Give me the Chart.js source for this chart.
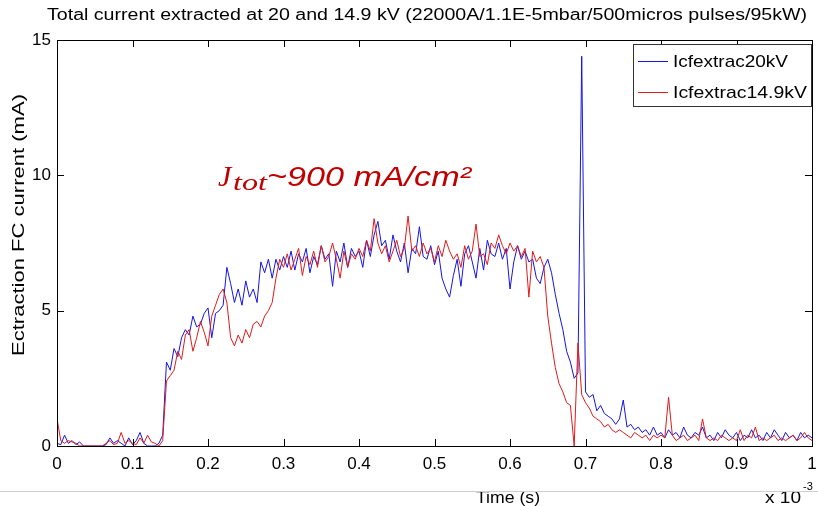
<!DOCTYPE html>
<html>
<head>
<meta charset="utf-8">
<script src="https://cdn.jsdelivr.net/npm/chart.js@4.4.1/dist/chart.umd.min.js"></script>
<style>
html, body { margin: 0; padding: 0; background: #fff; }
</style>
</head>
<body>
<canvas id="plot-data" width="818" height="506"></canvas>
<script>
// time samples in units of 1e-3 s, one every 0.005
const sampleStep = 0.005
const xTickLabels = ['0', '0.1', '0.2', '0.3', '0.4', '0.5', '0.6', '0.7', '0.8', '0.9', '1']
const yTickLabels = ['0', '5', '10', '15']

// Icfextrac20kV (mA)
const blueIcf = [
    0.1, 0.05, 0.4, 0.1, 0.2, 0.05, 0.15, 0, 0, 0, 0, 0, 0, 0.05, 0.3, 0.1, 0.2, 0.1, 0.0, 0.3,
    0.05, 0.2, 0.5, 0.1, 0.0, 0.0, 0.0, 0.1, 0.4, 3.1, 2.8, 3.6, 3.3, 4.0, 4.3, 4.1, 4.8, 4.4, 4.5, 4.9,
    5.1, 4.0, 4.9, 5.0, 5.2, 6.6, 6.0, 5.3, 5.8, 5.2, 6.1, 5.5, 5.8, 5.3, 6.8, 6.4, 6.9, 6.2, 6.9, 6.5,
    7.0, 6.6, 7.2, 6.5, 7.1, 6.8, 7.3, 6.4, 7.0, 6.7, 7.4, 6.9, 7.1, 5.9, 7.2, 6.8, 7.5, 6.6, 7.3, 7.0,
    7.2, 6.6, 7.6, 7.0, 7.8, 8.3, 7.4, 7.6, 6.9, 7.8, 7.2, 6.8, 7.5, 6.4, 7.3, 7.1, 8.1, 7.0, 6.9, 7.4,
    6.7, 7.2, 6.2, 5.8, 5.5, 6.3, 6.9, 5.9, 7.1, 7.4, 6.8, 6.2, 7.3, 6.5, 7.6, 7.1, 7.0, 7.5, 6.9, 7.3,
    5.8, 6.8, 7.4, 6.9, 7.2, 6.8, 6.9, 6.2, 6.0, 6.6, 6.9, 6.4, 5.6, 4.9, 4.3, 3.5, 3.1, 2.5, 2.7, 14.4,
    2.0, 1.8, 1.9, 1.3, 1.5, 1.2, 1.1, 1.0, 0.8, 1.0, 1.7, 0.7, 0.8, 0.6, 0.7, 0.5, 0.6, 0.4, 0.7, 0.4,
    0.5, 0.3, 0.6, 0.4, 0.5, 0.3, 0.7, 0.4, 0.3, 0.5, 0.4, 0.7, 0.3, 0.4, 0.2, 0.5, 0.3, 0.6, 0.4, 0.3,
    0.5, 0.2, 0.4, 0.3, 0.6, 0.3, 0.4, 0.2, 0.5, 0.3, 0.6, 0.4, 0.2, 0.5, 0.3, 0.4, 0.2, 0.5, 0.3, 0.4, 0.3
]

// Icfextrac14.9kV (mA)
const redIcf = [
    1.0, 0.2, 0.1, 0.2, 0.15, 0.1, 0, 0, 0, 0, 0, 0, 0, 0.1, 0.2, 0.05, 0.1, 0.5, 0.1, 0.2,
    0.1, 0.05, 0.3, 0.1, 0.4, 0.15, 0.1, 0, 0.2, 2.4, 2.6, 2.8, 3.5, 3.2, 4.1, 4.3, 3.5, 4.0, 4.6, 4.2,
    3.7, 4.8, 5.2, 5.6, 5.8, 5.3, 4.0, 3.7, 4.1, 3.8, 4.3, 4.0, 4.5, 4.6, 4.4, 4.8, 5.0, 5.3, 6.2, 6.9,
    6.6, 7.1, 6.5, 6.9, 7.3, 6.3, 7.0, 6.7, 7.2, 6.6, 7.4, 6.8, 7.0, 7.5, 6.9, 6.2, 7.2, 6.6, 7.1, 6.9,
    7.3, 7.0, 7.6, 7.2, 8.4, 7.5, 7.1, 7.4, 6.8, 7.2, 7.6, 7.0, 7.3, 8.5, 7.2, 7.4, 7.0, 7.5, 7.1, 7.3,
    6.8, 7.4, 7.0, 7.6, 7.2, 6.9, 7.1, 6.6, 7.4, 6.9, 7.2, 8.2, 7.0, 7.1, 6.7, 7.5, 7.3, 7.8, 7.4, 7.1,
    7.5, 7.2, 7.4, 7.0, 7.3, 5.5, 7.2, 6.8, 7.0, 6.6, 4.8, 3.8, 2.9, 2.3, 2.0, 1.6, 1.5, 0.0, 3.8, 1.9,
    1.6, 1.4, 1.1, 1.0, 0.9, 0.7, 0.8, 0.6, 0.5, 0.6, 0.5, 0.4, 0.3, 0.5, 0.4, 0.3, 0.4, 0.2, 0.4, 0.3,
    0.4, 0.3, 1.8, 0.4, 0.2, 0.3, 0.4, 0.2, 0.3, 0.4, 0.2, 1.0, 0.3, 0.2, 0.3, 0.2, 0.4, 0.3, 0.2, 0.3,
    0.2, 0.6, 0.2, 0.4, 0.3, 0.7, 0.2, 0.3, 0.2, 0.3, 0.4, 0.2, 0.3, 0.2, 0.3, 0.4, 0.2, 0.3, 0.5, 0.3, 0.2
]

const timeMs = blueIcf.map((v, i) => +(i * sampleStep).toFixed(3))

function toPoints(values) {
    return values.map((v, i) => ({ x: timeMs[i], y: v }))
}

// draws text squeezed/stretched to a given width
function fitText(ctx, text, x, y, width) {
    const w = ctx.measureText(text).width
    ctx.save()
    ctx.translate(x, y)
    ctx.scale(width / w, 1)
    ctx.fillText(text, 0, 0)
    ctx.restore()
}

const matlabFrame = {
    id: 'matlabFrame',
    afterDatasetsDraw(chart) {
        const { ctx } = chart
        ctx.save()
        ctx.fillStyle = '#c00000'
        ctx.textBaseline = 'alphabetic'
        ctx.textAlign = 'left'
        ctx.font = 'italic 30px "Liberation Serif"'
        ctx.fillText('J', 218, 186)
        ctx.font = 'italic 23px "Liberation Serif"'
        fitText(ctx, 'tot', 233, 190, 34)
        ctx.font = 'italic 28px "Liberation Sans"'
        fitText(ctx, '~900 mA/cm²', 267, 186, 204)
        ctx.restore()
    },
    afterDraw(chart) {
        const { ctx, chartArea: a, scales: { x, y } } = chart
        ctx.save()
        ctx.strokeStyle = '#000'
        ctx.lineWidth = 1
        ctx.strokeRect(Math.round(a.left) + 0.5, Math.round(a.top) + 0.5, Math.round(a.right - a.left), Math.round(a.bottom - a.top))

        // inward tick marks on all four sides
        ctx.beginPath()
        x.ticks.forEach(t => {
            const px = Math.round(x.getPixelForValue(t.value)) + 0.5
            ctx.moveTo(px, a.bottom); ctx.lineTo(px, a.bottom - 7)
            ctx.moveTo(px, a.top); ctx.lineTo(px, a.top + 7)
        })
        y.ticks.forEach(t => {
            const py = Math.round(y.getPixelForValue(t.value)) + 0.5
            ctx.moveTo(a.left, py); ctx.lineTo(a.left + 7, py)
            ctx.moveTo(a.right, py); ctx.lineTo(a.right - 7, py)
        })
        ctx.stroke()

        // legend box
        const lx = 633, ly = 44, lw = 178, lh = 62
        ctx.fillStyle = '#fff'
        ctx.fillRect(lx, ly, lw, lh)
        ctx.strokeStyle = '#333'
        ctx.strokeRect(lx + 0.5, ly + 0.5, lw, lh)
        ctx.font = '17px "Liberation Sans"'
        ctx.textBaseline = 'middle'
        ctx.textAlign = 'left'
        const legendWidths = [115, 134]
        chart.data.datasets.forEach((ds, i) => {
            const yy = 61 + i * 31
            ctx.strokeStyle = ds.borderColor
            ctx.beginPath()
            ctx.moveTo(638, yy + 0.5); ctx.lineTo(668, yy + 0.5)
            ctx.stroke()
            ctx.fillStyle = '#000'
            fitText(ctx, ds.label, 673, yy + 1, legendWidths[i])
        })

        // titles
        ctx.fillStyle = '#000'
        ctx.textAlign = 'left'
        ctx.textBaseline = 'alphabetic'
        ctx.font = '16px "Liberation Sans"'
        fitText(ctx, 'Total current extracted at 20 and 14.9 kV (22000A/1.1E-5mbar/500micros pulses/95kW)', 47, 20, 760)

        ctx.save()
        ctx.translate(24, 356)
        ctx.rotate(-Math.PI / 2)
        ctx.font = '17px "Liberation Sans"'
        fitText(ctx, 'Ectraction FC current (mA)', 0, 0, 262)
        ctx.restore()

        ctx.font = '16px "Liberation Sans"'
        fitText(ctx, 'Time (s)', 476, 503, 64)
        fitText(ctx, 'x 10', 765, 503, 36)
        ctx.font = '11px "Liberation Sans"'
        ctx.fillText('-3', 803, 490)

        // faint page edge line near the bottom
        ctx.strokeStyle = '#cfcfcf'
        ctx.beginPath()
        ctx.moveTo(0, 491.5); ctx.lineTo(818, 491.5)
        ctx.stroke()
        ctx.restore()
    }
}

const ctx = document.getElementById('plot-data').getContext('2d')
const chart = new Chart(ctx, {
    type: 'line',
    data: {
        datasets: [{
            label: 'Icfextrac20kV',
            data: toPoints(blueIcf),
            borderColor: '#1414e6',
            borderWidth: 1,
            pointRadius: 0,
            tension: 0,
            order: 1
        }, {
            label: 'Icfextrac14.9kV',
            data: toPoints(redIcf),
            borderColor: '#e01a1a',
            borderWidth: 1,
            pointRadius: 0,
            tension: 0,
            order: 0
        }]
    },
    options: {
        responsive: false,
        animation: false,
        layout: { padding: { left: 0, right: 0, top: 40, bottom: 0 } },
        plugins: {
            legend: { display: false },
            tooltip: { enabled: false }
        },
        scales: {
            x: {
                type: 'linear',
                min: 0,
                max: 1,
                grid: { display: false, drawTicks: false },
                border: { display: false },
                afterFit(scale) { scale.height = 60; scale.paddingRight = 6 },
                ticks: {
                    stepSize: 0.1,
                    padding: 8,
                    color: '#000',
                    font: { family: 'Liberation Sans', size: 17 },
                    maxRotation: 0,
                    callback: (v, i) => xTickLabels[i]
                }
            },
            y: {
                min: 0,
                max: 15,
                grid: { display: false, drawTicks: false },
                border: { display: false },
                afterFit(scale) { scale.width = 57 },
                ticks: {
                    stepSize: 5,
                    padding: 6,
                    color: '#000',
                    font: { family: 'Liberation Sans', size: 17 },
                    callback: (v, i) => yTickLabels[i]
                }
            }
        }
    },
    plugins: [matlabFrame]
})
</script>
</body>
</html>
